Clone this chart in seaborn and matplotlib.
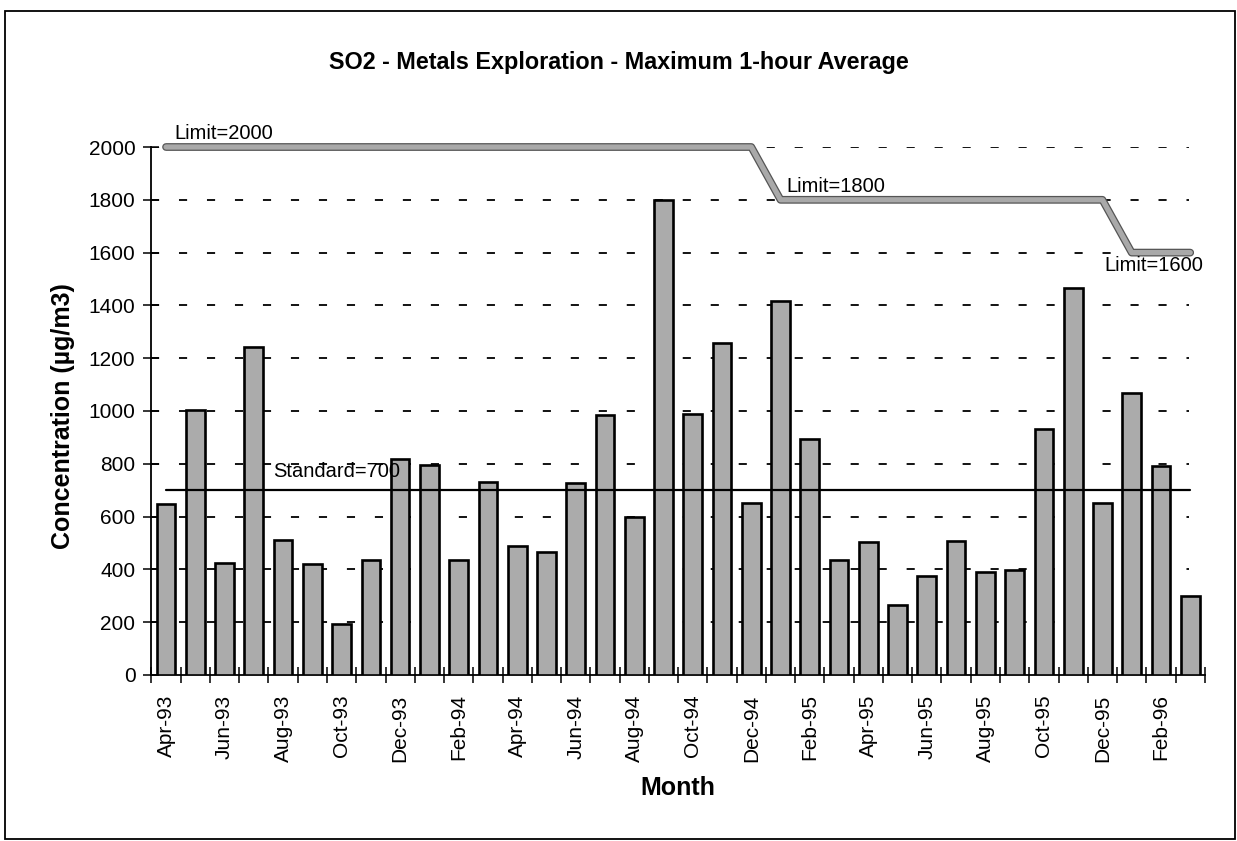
import numpy as np
import pandas as pd
import matplotlib
matplotlib.use("Agg")
import matplotlib.pyplot as plt
import matplotlib.patheffects as pe
from matplotlib.patches import Rectangle
import seaborn as sns

# Monthly maximum 1-hour SO2 concentrations (ug/m3)
months = [
    "Apr-93", "May-93", "Jun-93", "Jul-93", "Aug-93", "Sep-93", "Oct-93", "Nov-93",
    "Dec-93", "Jan-94", "Feb-94", "Mar-94", "Apr-94", "May-94", "Jun-94", "Jul-94",
    "Aug-94", "Sep-94", "Oct-94", "Nov-94", "Dec-94", "Jan-95", "Feb-95", "Mar-95",
    "Apr-95", "May-95", "Jun-95", "Jul-95", "Aug-95", "Sep-95", "Oct-95", "Nov-95",
    "Dec-95", "Jan-96", "Feb-96", "Mar-96",
]
concentration = [
    648, 1003, 425, 1243, 512, 422, 192, 436,
    817, 794, 434, 730, 490, 465, 728, 985,
    598, 1798, 990, 1258, 650, 1416, 893, 437,
    502, 265, 376, 508, 390, 398, 930, 1466,
    652, 1068, 790, 298,
]
# Permit limit in force each month, and the ambient standard
limit = [2000] * 21 + [1800] * 12 + [1600] * 3
standard = [700] * 36

df = pd.DataFrame({
    "month": months,
    "conc": concentration,
    "limit": limit,
    "standard": standard,
    "pos": np.arange(len(months)),
})

sns.set_theme(style="white")
plt.rcParams["font.family"] = ["Liberation Sans", "DejaVu Sans"]
plt.rcParams["text.color"] = "black"
plt.rcParams["axes.labelcolor"] = "black"
plt.rcParams["xtick.color"] = "black"
plt.rcParams["ytick.color"] = "black"

fig = plt.figure(figsize=(12.37, 8.41), dpi=100)
ax = fig.add_axes([0.1224, 0.1974, 0.8516, 0.6278])

sns.barplot(data=df, x="month", y="conc", color="#ababab", saturation=1,
            edgecolor="black", linewidth=1.9, width=0.64, ax=ax, zorder=3)

# Limit line: thick grey band with a darker rim
sns.lineplot(data=df, x="pos", y="limit", color="#a9a9a9", linewidth=3.8,
             ax=ax, zorder=5, clip_on=False,
             path_effects=[pe.Stroke(linewidth=5.6, foreground="#555555"), pe.Normal()])
sns.lineplot(data=df, x="pos", y="standard", color="black", linewidth=1.6,
             ax=ax, zorder=6)

ax.set_xlim(-0.5, 35.5)
ax.set_ylim(0, 2000)
ax.set_yticks(np.arange(0, 2001, 200))
ax.tick_params(axis="y", direction="inout", length=11, width=1.1,
               labelsize=15, colors="black", pad=6, left=True)
ax.set_xticks(np.arange(0, 36, 2))
ax.set_xticklabels(months[::2], rotation=90, fontsize=15)
ax.tick_params(axis="x", which="major", length=0, pad=14)
ax.set_xticks(np.arange(-0.5, 36, 1), minor=True)
ax.tick_params(axis="x", which="minor", direction="inout", length=11,
               width=1.1, colors="black", bottom=True)

for y in np.arange(200, 2001, 200):
    ax.axhline(y, xmin=0.0, xmax=0.985, color="black", linewidth=1.3,
               linestyle=(0, (4.5, 11)), zorder=1)

for side in ("top", "right"):
    ax.spines[side].set_visible(False)
for side in ("left", "bottom"):
    ax.spines[side].set_color("black")
    ax.spines[side].set_linewidth(1.3)

ax.set_xlabel("Month", fontsize=18, fontweight="bold", labelpad=10)
ax.set_ylabel("")
fig.text(63 / 1237, 1 - 416 / 841, "Concentration (\u00b5g/m3)", rotation=90,
         ha="center", va="center", fontsize=18, fontweight="bold")
fig.text(0.5, 1 - 62 / 841, "SO2 - Metals Exploration - Maximum 1-hour Average",
         ha="center", va="center", fontsize=16.8, fontweight="bold")

ax.text(0.27, 2053, "Limit=2000", fontsize=14.5, ha="left", va="center")
ax.text(21.19, 1852, "Limit=1800", fontsize=14.5, ha="left", va="center")
ax.text(32.06, 1551, "Limit=1600", fontsize=14.5, ha="left", va="center", zorder=7)
ax.text(3.66, 770, "Standard=700", fontsize=14.5, ha="left", va="center", zorder=7)

# Outer chart-area border
fig.add_artist(Rectangle((5 / 1237, 2 / 841), 1230 / 1237, 828 / 841,
                         transform=fig.transFigure, fill=False,
                         edgecolor="black", linewidth=1.3))

fig.savefig("out.png", dpi=100)
